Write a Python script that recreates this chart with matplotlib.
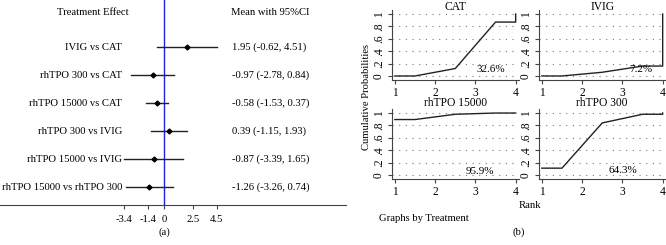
import matplotlib
matplotlib.use('Agg')
from matplotlib import pyplot as plt

plt.rcParams['font.family'] = 'Liberation Serif'
plt.rcParams['font.size'] = 7.7

# forest plot data
comparisons = ['IVIG vs CAT', 'rhTPO 300 vs CAT', 'rhTPO 15000 vs CAT',
               'rhTPO 300 vs IVIG', 'rhTPO 15000 vs IVIG', 'rhTPO 15000 vs rhTPO 300']
means = [1.95, -0.97, -0.58, 0.39, -0.87, -1.26]
lower = [-0.62, -2.78, -1.53, -1.15, -3.39, -3.26]
upper = [4.51, 0.84, 0.37, 1.93, 1.65, 0.74]
xticks_a = [-3.4, -1.4, 0, 2.5, 4.5]

# cumulative ranking data
treatments = ['CAT', 'IVIG', 'rhTPO 15000', 'rhTPO 300']
rank_x = [1, 1.5, 2.5, 3.5, 4, 4]
cum_prob = {
    'CAT':         [0.0, 0.0, 0.12, 0.87, 0.87, 1.0],
    'IVIG':        [0.0, 0.0, 0.06, 0.16, 0.16, 1.0],
    'rhTPO 15000': [0.895, 0.895, 0.98, 1.0, 1.0, 1.0],
    'rhTPO 300':   [0.11, 0.11, 0.84, 0.98, 0.98, 1.0],
}
sucra = {'CAT': '32.6%', 'IVIG': '7.2%', 'rhTPO 15000': '95.9%', 'rhTPO 300': '64.3%'}
sucra_pos = {'CAT': (3.38, 0.11), 'IVIG': (3.45, 0.1),
             'rhTPO 15000': (3.1, 0.06), 'rhTPO 300': (3.02, 0.08)}

W, H = 666, 245
fig = plt.figure(figsize=(W / 100, H / 100), dpi=100)

# ---- (a) forest plot
px0, pxu = 164, 11.7
ax = fig.add_axes([0, (H - 205) / H, 346 / W, 205 / H])
ax.set_xlim(-px0 / pxu, (346 - px0) / pxu)
ax.set_ylim((205 - 47) / 28, -47 / 28)
ax.axvline(0, color='#2222dd', lw=1)
for i, c in enumerate(comparisons):
    ax.plot([lower[i], upper[i]], [i, i], color='#222222', lw=1)
    ax.plot(means[i], i, 'D', color='black', ms=2.5)
    ax.text((122 - px0) / pxu, i, c, ha='right', va='center')
    ax.text((232 - px0) / pxu, i,
            f'{means[i]:.2f} ({lower[i]:.2f}, {upper[i]:.2f})', ha='left', va='center')
ax.text((93 - px0) / pxu, -1.25, 'Treatment Effect', ha='center', va='center')
ax.text((231 - px0) / pxu, -1.25, 'Mean with 95%CI', ha='left', va='center')
for s in ['top', 'right', 'left']:
    ax.spines[s].set_visible(False)
ax.spines['bottom'].set_color('#444444')
ax.set_yticks([])
ax.set_xticks(xticks_a)
ax.set_xticklabels(['-3.4', '-1.4', '0', '2.5', '4.5'])
ax.tick_params(axis='x', length=3, color='#444444', pad=4)
fig.text(164 / W, 1 - 232 / H, '(a)', ha='center', va='center')

# ---- (b) cumulative rank plots
lefts = [392, 539, 392, 539]
tops = [10, 10, 109, 109]
for k, (t, l, tp) in enumerate(zip(treatments, lefts, tops)):
    a = fig.add_axes([l / W, 1 - (tp + 70) / H, 126.5 / W, 70 / H])
    a.plot(rank_x, cum_prob[t], color='#222222', lw=1)
    a.set_xlim(0.93, 4.07)
    a.set_ylim(-0.065, 1.065)
    a.set_xticks([1, 2, 3, 4])
    a.set_yticks([0, 0.2, 0.4, 0.6, 0.8, 1])
    a.set_yticklabels(['0', '.2', '.4', '.6', '.8', '1'], rotation=90, va='center')
    a.grid(axis='y', linestyle=(0, (1, 5)), color='#777777', lw=0.8)
    for s in ['top', 'right']:
        a.spines[s].set_visible(False)
    for s in ['left', 'bottom']:
        a.spines[s].set_color('#444444')
    a.tick_params(length=3, color='#444444', pad=2, labelsize=8.3)
    if k < 2:
        a.text(0.5, 1 + 9.3 / 70, t, transform=a.transAxes, ha='center', va='top', fontsize=8.3)
    else:
        a.text(0.5, 1.08, t, transform=a.transAxes, ha='center', va='center', fontsize=8.3)
    a.text(*sucra_pos[t], sucra[t], ha='center', va='center', fontsize=8)

fig.text(366 / W, 1 - 97 / H, 'Cumulative Probabilities', rotation=90, ha='center', va='center')
fig.text(530 / W, 1 - 205 / H, 'Rank', ha='center', va='center')
fig.text(379 / W, 1 - 218 / H, 'Graphs by Treatment', ha='left', va='center')
fig.text(519 / W, 1 - 232 / H, '(b)', ha='center', va='center')

fig.savefig('out.png', dpi=100)
